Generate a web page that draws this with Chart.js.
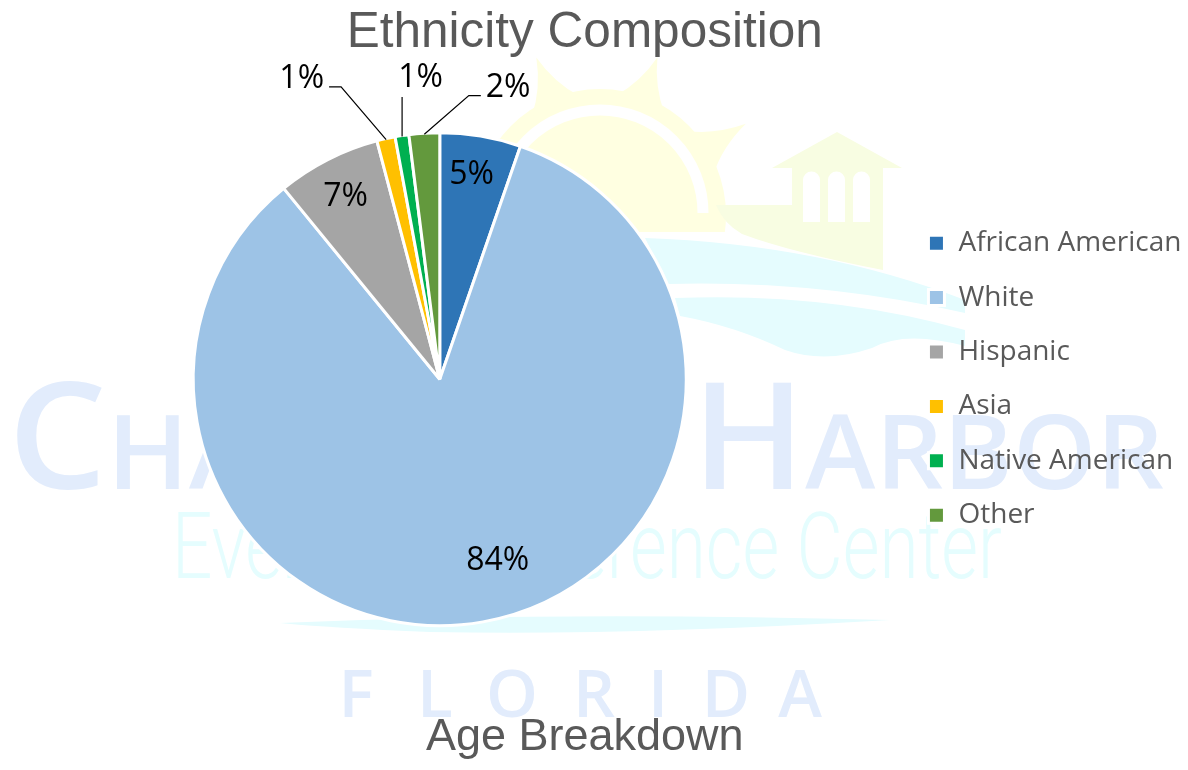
<!DOCTYPE html>
<html>
<head>
<meta charset="utf-8">
<script src="https://cdn.jsdelivr.net/npm/chart.js@4.4.1/dist/chart.umd.min.js"></script>
<style>
  html, body { margin: 0; padding: 0; background: #ffffff; }
  #wrap { width: 1188px; height: 770px; position: relative; }
</style>
</head>
<body>
<div id="wrap"><canvas id="chart" width="1188" height="770"></canvas></div>
<script>
// ---- data ----
const categories = ['African American', 'White', 'Hispanic', 'Asia', 'Native American', 'Other'];
const shares = [5.3, 83.7, 6.8, 1.2, 0.9, 2.0];
const chartTitle = 'Ethnicity Composition';
const nextSectionTitle = 'Age Breakdown';

// ---- styles ----
const sliceColors = ['#2E75B6', '#9DC3E6', '#A5A5A5', '#FFC000', '#00B050', '#63993D'];
// label placement per slice: inside/outside, radius fraction, angle shift (deg)
const labelPlacement = [
  { inside: true,  r: 0.85, da: -0.8 },
  { inside: true,  r: 0.765, da: -7.8 },
  { inside: true,  r: 0.84, da: 0 },
  { inside: false, r: 1.35, da: -11.9 },
  { inside: false, r: 1.235, da: 5.2 },
  { inside: false, r: 1.225, da: 16.7 }
];
const LABEL_FONT = "32px 'Open Sans', 'Noto Sans', sans-serif";
const TEXT_GREY = '#595959';
const PLOT_LEFT_SHIFT = 22.5; // widen plot area to the left so the pie sits left of centre

function fitText(ctx, parts, x0, x1, baseline, fam) {
  let total = 0;
  parts.forEach(p => { ctx.font = `600 ${p[1]}px ${fam}`; p.w = ctx.measureText(p[0]).width; total += p.w; });
  ctx.save();
  ctx.translate(x0, baseline);
  ctx.scale((x1 - x0) / total, 1);
  let x = 0;
  parts.forEach(p => { ctx.font = `600 ${p[1]}px ${fam}`; ctx.fillText(p[0], x, 0); x += p.w; });
  ctx.restore();
}

const plotArea = {
  id: 'plotArea',
  afterLayout(chart) {
    const a = chart.chartArea;
    a.left -= PLOT_LEFT_SHIFT;
    a.width = a.right - a.left;
  }
};

const watermark = {
  id: 'watermark',
  beforeDraw(chart) {
    const ctx = chart.ctx;
    ctx.save();
    // sun
    ctx.fillStyle = '#FFFFE1';
    ctx.beginPath();
    ctx.rect(0, 0, 1188, 232);
    ctx.clip();
    ctx.beginPath();
    ctx.arc(600, 215, 126, 0, Math.PI * 2);
    ctx.fill();
    const rays = [[-100, 172], [-62, 165], [-22, 170], [20, 168], [58, 172]];
    rays.forEach(([deg, len]) => {
      const a = deg * Math.PI / 180;
      const tip = [600 + Math.sin(a) * len, 215 - Math.cos(a) * len];
      const a1 = a - 0.22, a2 = a + 0.22;
      ctx.beginPath();
      ctx.moveTo(600 + Math.sin(a1) * 120, 215 - Math.cos(a1) * 120);
      ctx.quadraticCurveTo(600 + Math.sin(a - 0.05) * 140, 215 - Math.cos(a - 0.05) * 140, tip[0], tip[1]);
      ctx.quadraticCurveTo(600 + Math.sin(a + 0.05) * 140, 215 - Math.cos(a + 0.05) * 140, 600 + Math.sin(a2) * 120, 215 - Math.cos(a2) * 120);
      ctx.closePath();
      ctx.fill();
    });
    ctx.strokeStyle = '#ffffff';
    ctx.lineWidth = 11;
    ctx.beginPath();
    ctx.arc(600, 213, 103, Math.PI, 2 * Math.PI);
    ctx.stroke();
    ctx.restore();
    ctx.save();
    // house
    ctx.fillStyle = '#F8FDE2';
    ctx.beginPath();
    ctx.moveTo(772, 168); ctx.lineTo(837, 132); ctx.lineTo(902, 168); ctx.closePath();
    ctx.fill();
    ctx.beginPath();
    ctx.moveTo(716, 205); ctx.lineTo(792, 205); ctx.lineTo(792, 168); ctx.lineTo(883, 168);
    ctx.lineTo(883, 270);
    ctx.quadraticCurveTo(790, 252, 742, 234);
    ctx.quadraticCurveTo(724, 224, 716, 205);
    ctx.closePath();
    ctx.fill();
    ctx.fillStyle = '#ffffff';
    [803, 828, 853].forEach(x => {
      ctx.beginPath();
      ctx.moveTo(x, 222); ctx.lineTo(x, 180);
      ctx.arc(x + 8.5, 180, 8.5, Math.PI, 2 * Math.PI);
      ctx.lineTo(x + 17, 222); ctx.closePath();
      ctx.fill();
    });
    // waves
    ctx.fillStyle = '#E5FCFE';
    ctx.beginPath();
    ctx.moveTo(645, 238);
    ctx.quadraticCurveTo(820, 244, 965, 300);
    ctx.lineTo(965, 313);
    ctx.quadraticCurveTo(820, 280, 668, 284);
    ctx.closePath();
    ctx.fill();
    ctx.beginPath();
    ctx.moveTo(675, 298);
    ctx.quadraticCurveTo(830, 292, 965, 330);
    ctx.lineTo(965, 346);
    ctx.quadraticCurveTo(905, 330, 872, 348);
    ctx.quadraticCurveTo(825, 364, 785, 350);
    ctx.quadraticCurveTo(735, 326, 680, 316);
    ctx.closePath();
    ctx.fill();
    // swoosh
    ctx.beginPath();
    ctx.moveTo(280, 623);
    ctx.quadraticCurveTo(560, 611, 890, 620);
    ctx.quadraticCurveTo(620, 636, 430, 632);
    ctx.quadraticCurveTo(330, 628, 280, 623);
    ctx.closePath();
    ctx.fill();
    // CHARLOTTE HARBOR
    const fam = "'Open Sans', sans-serif";
    ctx.fillStyle = '#E2ECFC';
    ctx.textBaseline = 'alphabetic';
    fitText(ctx, [['C', 148], ['HARLOTTE', 104]], 8, 662, 489, fam);
    fitText(ctx, [['H', 148], ['ARBOR', 104]], 692, 1164, 489, fam);
    // Event & Conference Center
    ctx.save();
    ctx.fillStyle = '#E5FDFE';
    ctx.font = "300 92px Roboto, sans-serif";
    const ev = 'Event & Conference Center';
    const evw = ctx.measureText(ev).width;
    ctx.translate(172, 578);
    ctx.scale(830 / evw, 1);
    ctx.fillText(ev, 0, 0);
    ctx.restore();
    // FLORIDA
    ctx.save();
    ctx.fillStyle = '#E2ECFC';
    ctx.font = "600 66px 'Open Sans', sans-serif";
    ctx.textAlign = 'center';
    const letters = 'FLORIDA'.split('');
    const cx = [356, 435, 512, 594, 658, 726, 800];
    letters.forEach((l, i) => ctx.fillText(l, cx[i], 717));
    ctx.restore();
    ctx.restore();
  }
};

const sliceLabels = {
  id: 'sliceLabels',
  afterDatasetsDraw(chart) {
    const ctx = chart.ctx;
    const meta = chart.getDatasetMeta(0);
    const data = chart.data.datasets[0].data;
    const total = data.reduce((a, b) => a + b, 0);
    ctx.save();
    ctx.font = LABEL_FONT;
    ctx.fillStyle = '#000000';
    ctx.textAlign = 'center';
    ctx.textBaseline = 'alphabetic';
    const capH = 23;
    meta.data.forEach((arc, i) => {
      const p = arc.getProps(['x', 'y', 'startAngle', 'endAngle', 'outerRadius'], true);
      const mid = (p.startAngle + p.endAngle) / 2;
      const place = labelPlacement[i];
      const la = mid + place.da * Math.PI / 180;
      const lx = p.x + Math.cos(la) * p.outerRadius * place.r;
      const ly = p.y + Math.sin(la) * p.outerRadius * place.r;
      const txt = Math.round(data[i] / total * 100) + '%';
      ctx.fillText(txt, lx, ly + capH / 2);
      if (!place.inside) {
        const w = ctx.measureText(txt).width;
        const box = { l: lx - w / 2, r: lx + w / 2, t: ly - capH / 2, b: ly + capH / 2 };
        const ex = p.x + Math.cos(mid) * (p.outerRadius - 1);
        const ey = p.y + Math.sin(mid) * (p.outerRadius - 1);
        ctx.strokeStyle = '#000000';
        ctx.lineWidth = 1.2;
        ctx.beginPath();
        if (ex < box.l - 4) {
          ctx.moveTo(box.l - 5, box.b - 1);
          ctx.lineTo(box.l - 17, box.b - 1);
          ctx.lineTo(ex, ey);
        } else if (ex > box.r + 4) {
          ctx.moveTo(box.r + 5, box.b - 1);
          ctx.lineTo(box.r + 17, box.b - 1);
          ctx.lineTo(ex, ey);
        } else {
          ctx.moveTo(ex, box.b + 10);
          ctx.lineTo(ex, ey);
        }
        ctx.stroke();
      }
    });
    ctx.restore();
  }
};

new Chart(document.getElementById('chart'), {
  type: 'pie',
  data: {
    labels: categories,
    datasets: [{
      data: shares,
      backgroundColor: sliceColors,
      borderColor: '#ffffff',
      borderWidth: 3,
      radius: 246.5
    }]
  },
  options: {
    responsive: false,
    animation: false,
    layout: { autoPadding: false, padding: { left: -22, right: -3.5, top: 0, bottom: 0 } },
    plugins: {
      title: {
        display: true,
        text: chartTitle,
        color: TEXT_GREY,
        font: { family: "'Liberation Sans', Arial, sans-serif", size: 49.5, weight: 'normal', lineHeight: 1.2 },
        padding: { top: 4, bottom: 0 }
      },
      subtitle: {
        display: true,
        position: 'bottom',
        text: nextSectionTitle,
        color: TEXT_GREY,
        font: { family: "'Liberation Sans', Arial, sans-serif", size: 45, weight: 'normal', lineHeight: 1.2 },
        padding: { top: 15.4, bottom: 5.6 }
      },
      legend: {
        position: 'right',
        fullSize: false,
        labels: {
          color: TEXT_GREY,
          font: { family: "'Open Sans', 'Noto Sans', sans-serif", size: 28 },
          boxWidth: 16,
          boxHeight: 16,
          padding: 26.4
        }
      },
      tooltip: { enabled: false }
    }
  },
  plugins: [plotArea, watermark, sliceLabels]
});
</script>
</body>
</html>
